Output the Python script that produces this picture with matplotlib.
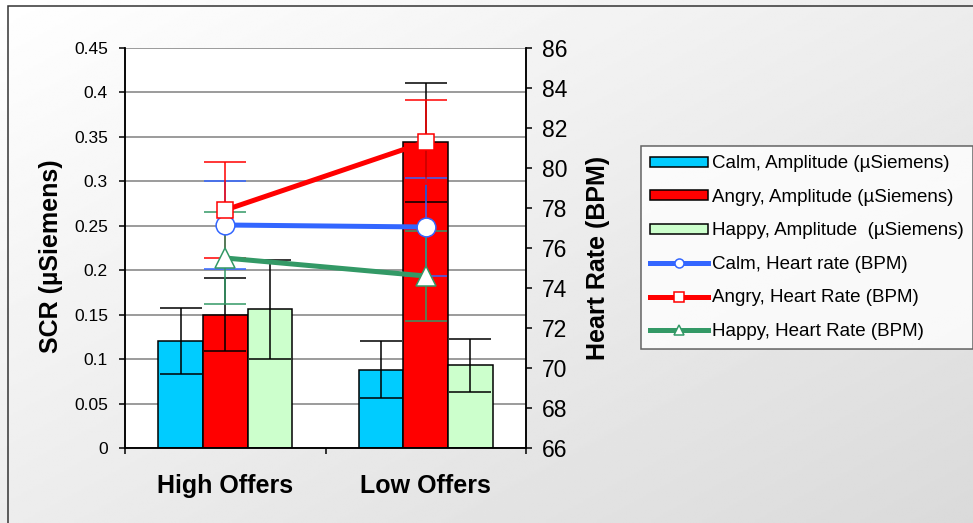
import numpy as np
import matplotlib
matplotlib.use('Agg')
import matplotlib.pyplot as plt
from matplotlib.patches import Patch, Rectangle
from matplotlib.lines import Line2D

plt.rcParams['font.family'] = ['Liberation Sans', 'DejaVu Sans']

categories = ['High Offers', 'Low Offers']

# skin conductance response amplitude (uSiemens), mean and error
scr_calm = [0.120, 0.088]
scr_calm_err = [0.037, 0.032]
scr_angry = [0.150, 0.344]
scr_angry_err = [0.041, 0.067]
scr_happy = [0.156, 0.093]
scr_happy_err = [0.056, 0.030]

# heart rate (BPM), mean and error
hr_calm = [77.15, 77.05]
hr_calm_err = [2.2, 2.45]
hr_angry = [77.9, 81.3]
hr_angry_err = [2.4, 2.1]
hr_happy = [75.5, 74.6]
hr_happy_err = [2.3, 2.25]

bar_labels = ['Calm, Amplitude (µSiemens)', 'Angry, Amplitude (µSiemens)',
              'Happy, Amplitude  (µSiemens)']
line_labels = ['Calm, Heart rate (BPM)', 'Angry, Heart Rate (BPM)',
               'Happy, Heart Rate (BPM)']

bar_colors = ['#00CCFF', '#FF0000', '#CCFFCC']
line_colors = ['#3366FF', '#FF0000', '#339966']
markers = ['o', 's', '^']
marker_sizes = [13.5, 11.5, 14]

fig = plt.figure(figsize=(9.73, 5.23), dpi=100)

# grey diagonal background behind everything
bg = fig.add_axes([0, 0, 1, 1], zorder=-10)
u = np.linspace(0, 1, 400)
v = np.linspace(0, 1, 220)
U, V = np.meshgrid(u, v)
grad = 1.0 - 0.145 * (0.5 * U + 0.5 * V)
bg.imshow(grad, cmap='gray', vmin=0, vmax=1, aspect='auto',
          extent=[0, 1, 1, 0], interpolation='bilinear')
bg.set_xlim(0, 1)
bg.set_ylim(1, 0)
bg.axis('off')
fig.patches.append(Rectangle((8 / 973, -0.1), 1.2, 1 - 6 / 523 + 0.1,
                             transform=fig.transFigure, fill=False,
                             edgecolor='#333333', linewidth=1.1, zorder=-5))

ax = fig.add_axes([125 / 973, 1 - 448 / 523, 401 / 973, 400 / 523])
ax.set_facecolor('white')
ax2 = ax.twinx()

x = np.arange(len(categories))
w = 1 / 4.5
scr = [scr_calm, scr_angry, scr_happy]
scr_err = [scr_calm_err, scr_angry_err, scr_happy_err]
for i in range(3):
    pos = x + (i - 1) * w
    ax.bar(pos, scr[i], w, color=bar_colors[i], edgecolor='black',
           linewidth=1.1, zorder=2)
    ax.errorbar(pos, scr[i], yerr=scr_err[i], fmt='none', ecolor='black',
                elinewidth=1.1, capsize=15, capthick=1.1, zorder=3)

hr = [hr_calm, hr_angry, hr_happy]
hr_err = [hr_calm_err, hr_angry_err, hr_happy_err]
for i in range(3):
    ax2.errorbar(x, hr[i], yerr=hr_err[i], fmt='none', ecolor=line_colors[i],
                 elinewidth=1.1, capsize=15, capthick=1.1, zorder=2)
for i in range(3):
    ax2.plot(x, hr[i], color=line_colors[i], linewidth=3.6, marker=markers[i],
             markersize=marker_sizes[i], markerfacecolor='white',
             markeredgecolor=line_colors[i], markeredgewidth=1.1, zorder=3)

ax.set_xlim(-0.5, 1.5)
ax.set_ylim(0, 0.45)
ax.set_yticks(np.arange(0, 0.451, 0.05))
ax.set_yticklabels(['0', '0.05', '0.1', '0.15', '0.2', '0.25', '0.3', '0.35',
                    '0.4', '0.45'])
ax.set_axisbelow(True)
ax.grid(axis='y', color='#808080', linewidth=1.1)
ax.set_xticks(x)
ax.set_xticklabels(categories, fontsize=18, fontweight='bold')
ax.set_xticks([-0.5, 0.5, 1.5], minor=True)
ax.tick_params(axis='x', which='major', length=0, pad=19)
ax.tick_params(axis='x', which='minor', length=4.3, width=1.1, direction='out')
ax.tick_params(axis='y', length=4.3, width=1.1, labelsize=12.5, pad=8)

ax2.set_ylim(66, 86)
ax2.set_yticks(np.arange(66, 87, 2))
ax2.tick_params(axis='y', length=4.3, width=1.1, labelsize=16.5, pad=7)

for a in (ax, ax2):
    a.spines['top'].set_visible(False)
    for s in ('left', 'right', 'bottom'):
        a.spines[s].set_linewidth(1.1)

ax.set_ylabel('SCR (µSiemens)', fontsize=18, fontweight='bold')
ax.yaxis.set_label_coords(-0.155, 0.48)
ax2.set_ylabel('Heart Rate (BPM)', fontsize=18, fontweight='bold')
ax2.yaxis.set_label_coords(1.15, 0.475)

handles = [Patch(facecolor=c, edgecolor='black', linewidth=1.1)
           for c in bar_colors]
handles += [Line2D([], [], color=c, linewidth=3.6, marker=m, markersize=6.5,
                   markerfacecolor='white', markeredgecolor=c,
                   markeredgewidth=1.1)
            for c, m in zip(line_colors, markers)]
leg = fig.legend(handles, bar_labels + line_labels, loc='upper left',
                 bbox_to_anchor=(641 / 973, 1 - 146 / 523), fontsize=13.5,
                 frameon=True, fancybox=False, borderaxespad=0,
                 borderpad=0.5, handlelength=3.05, handleheight=0.43,
                 handletextpad=0.25, labelspacing=0.88, numpoints=1)
leg.get_frame().set_edgecolor('#404040')
leg.get_frame().set_linewidth(1.1)
leg.get_frame().set_facecolor('white')

plt.savefig('out.png', dpi=100)
